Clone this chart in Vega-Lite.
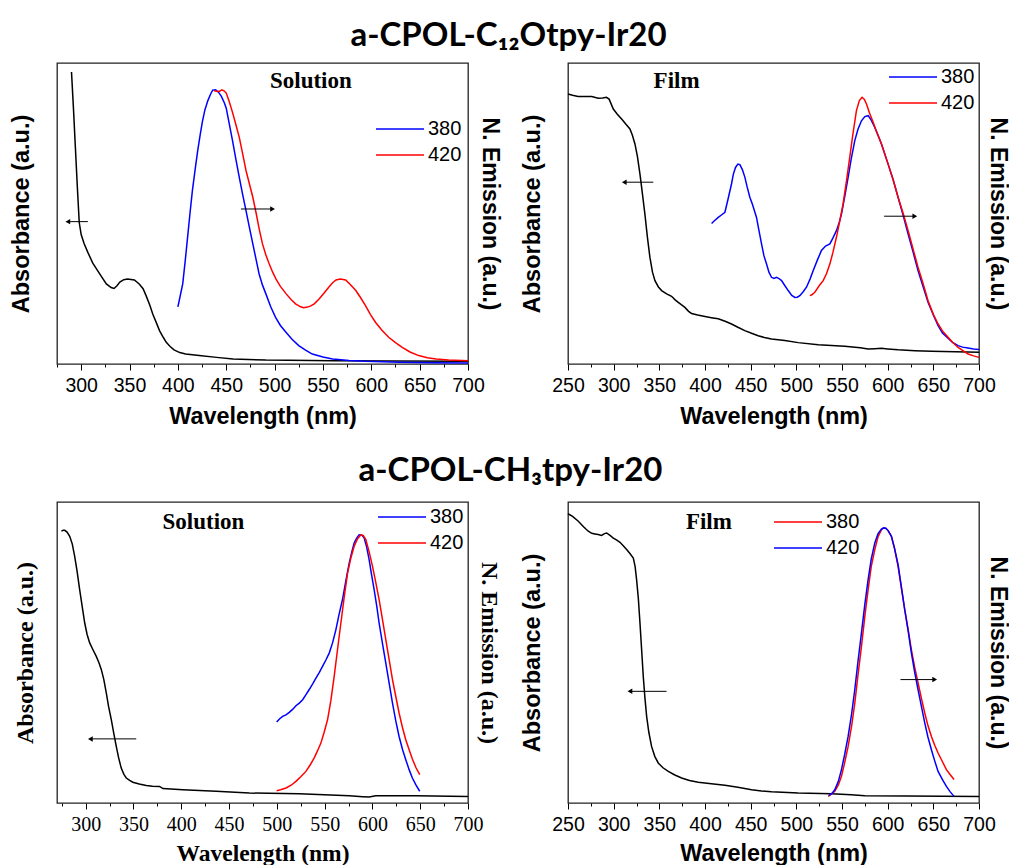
{
"$schema": "https://vega.github.io/schema/vega-lite/v6.json",
"background": "white",
"padding": {"left": 8, "top": 20, "right": 0, "bottom": 0},
"config": {
  "view": {"stroke": "#222222", "strokeWidth": 1.3},
  "axis": {"labelFont": "Liberation Sans", "labelFontSize": 19.5, "labelColor": "black", "titleFont": "Liberation Sans", "titleFontSize": 23.4, "titleFontWeight": "bold", "titleColor": "black", "tickColor": "black", "grid": false, "domain": false},
  "title": {"font": "Lato", "fontSize": 33, "fontWeight": "bold", "color": "black", "anchor": "middle", "offset": 9},
  "legend": {"labelFont": "Liberation Sans", "labelFontSize": 20, "labelColor": "black", "title": null, "orient": "none", "symbolType": "M-6,0L6,0", "symbolSize": 64, "symbolStrokeWidth": 1.5, "rowPadding": 6, "labelOffset": 18}
},
"datasets": {
  "A_abs": [{"wl":290,"v":0.97},{"wl":292,"v":0.85},{"wl":294,"v":0.72},{"wl":296,"v":0.59},{"wl":298,"v":0.47},{"wl":300,"v":0.43},{"wl":303,"v":0.40},{"wl":307,"v":0.37},{"wl":312,"v":0.335},{"wl":319,"v":0.30},{"wl":326,"v":0.266},{"wl":331,"v":0.254},{"wl":334,"v":0.251},{"wl":337,"v":0.26},{"wl":340,"v":0.272},{"wl":344,"v":0.28},{"wl":348,"v":0.282},{"wl":355,"v":0.279},{"wl":360,"v":0.266},{"wl":364,"v":0.25},{"wl":367,"v":0.228},{"wl":371,"v":0.195},{"wl":374,"v":0.166},{"wl":378,"v":0.135},{"wl":381,"v":0.111},{"wl":385,"v":0.088},{"wl":388,"v":0.072},{"wl":392,"v":0.058},{"wl":396,"v":0.047},{"wl":402,"v":0.038},{"wl":408,"v":0.033},{"wl":422,"v":0.028},{"wl":440,"v":0.022},{"wl":457,"v":0.017},{"wl":491,"v":0.013},{"wl":560,"v":0.011},{"wl":620,"v":0.010},{"wl":700,"v":0.009}],
  "A_em": [
    {"wl":400,"v":0.19,"ex":"380"},{"wl":402,"v":0.22,"ex":"380"},{"wl":405,"v":0.266,"ex":"380"},{"wl":407.5,"v":0.34,"ex":"380"},{"wl":410,"v":0.42,"ex":"380"},{"wl":412.5,"v":0.50,"ex":"380"},{"wl":415,"v":0.576,"ex":"380"},{"wl":418,"v":0.65,"ex":"380"},{"wl":420.5,"v":0.709,"ex":"380"},{"wl":423,"v":0.76,"ex":"380"},{"wl":425.5,"v":0.808,"ex":"380"},{"wl":428,"v":0.845,"ex":"380"},{"wl":431,"v":0.875,"ex":"380"},{"wl":434,"v":0.898,"ex":"380"},{"wl":436,"v":0.91,"ex":"380"},{"wl":439,"v":0.911,"ex":"380"},{"wl":442,"v":0.903,"ex":"380"},{"wl":445,"v":0.889,"ex":"380"},{"wl":448,"v":0.868,"ex":"380"},{"wl":450,"v":0.85,"ex":"380"},{"wl":453,"v":0.80,"ex":"380"},{"wl":456.5,"v":0.742,"ex":"380"},{"wl":460,"v":0.68,"ex":"380"},{"wl":463.5,"v":0.62,"ex":"380"},{"wl":467,"v":0.563,"ex":"380"},{"wl":470.5,"v":0.509,"ex":"380"},{"wl":474,"v":0.453,"ex":"380"},{"wl":477.5,"v":0.399,"ex":"380"},{"wl":481,"v":0.345,"ex":"380"},{"wl":484,"v":0.299,"ex":"380"},{"wl":487.5,"v":0.262,"ex":"380"},{"wl":491,"v":0.233,"ex":"380"},{"wl":496,"v":0.19,"ex":"380"},{"wl":501,"v":0.155,"ex":"380"},{"wl":506,"v":0.128,"ex":"380"},{"wl":512,"v":0.105,"ex":"380"},{"wl":518,"v":0.082,"ex":"380"},{"wl":525,"v":0.061,"ex":"380"},{"wl":532,"v":0.046,"ex":"380"},{"wl":539,"v":0.033,"ex":"380"},{"wl":550,"v":0.023,"ex":"380"},{"wl":560,"v":0.017,"ex":"380"},{"wl":577,"v":0.012,"ex":"380"},{"wl":594,"v":0.009,"ex":"380"},{"wl":629,"v":0.0055,"ex":"380"},{"wl":665,"v":0.004,"ex":"380"},{"wl":700,"v":0.003,"ex":"380"},
    {"wl":437.5,"v":0.908,"ex":"420"},{"wl":441,"v":0.905,"ex":"420"},{"wl":443,"v":0.906,"ex":"420"},{"wl":445.5,"v":0.911,"ex":"420"},{"wl":448,"v":0.907,"ex":"420"},{"wl":450,"v":0.9,"ex":"420"},{"wl":453,"v":0.873,"ex":"420"},{"wl":456.5,"v":0.836,"ex":"420"},{"wl":460,"v":0.795,"ex":"420"},{"wl":463.5,"v":0.753,"ex":"420"},{"wl":467,"v":0.698,"ex":"420"},{"wl":470.5,"v":0.642,"ex":"420"},{"wl":474,"v":0.598,"ex":"420"},{"wl":477.5,"v":0.554,"ex":"420"},{"wl":481,"v":0.5,"ex":"420"},{"wl":484,"v":0.45,"ex":"420"},{"wl":487.5,"v":0.399,"ex":"420"},{"wl":491,"v":0.362,"ex":"420"},{"wl":494.5,"v":0.332,"ex":"420"},{"wl":498,"v":0.305,"ex":"420"},{"wl":501.5,"v":0.282,"ex":"420"},{"wl":506,"v":0.258,"ex":"420"},{"wl":512,"v":0.233,"ex":"420"},{"wl":517,"v":0.214,"ex":"420"},{"wl":522,"v":0.199,"ex":"420"},{"wl":527,"v":0.19,"ex":"420"},{"wl":530,"v":0.187,"ex":"420"},{"wl":534,"v":0.189,"ex":"420"},{"wl":537.5,"v":0.193,"ex":"420"},{"wl":541,"v":0.2,"ex":"420"},{"wl":546,"v":0.216,"ex":"420"},{"wl":551,"v":0.235,"ex":"420"},{"wl":556,"v":0.255,"ex":"420"},{"wl":560,"v":0.27,"ex":"420"},{"wl":563.5,"v":0.279,"ex":"420"},{"wl":568,"v":0.282,"ex":"420"},{"wl":573.5,"v":0.279,"ex":"420"},{"wl":578,"v":0.265,"ex":"420"},{"wl":584,"v":0.244,"ex":"420"},{"wl":589,"v":0.22,"ex":"420"},{"wl":594,"v":0.194,"ex":"420"},{"wl":599,"v":0.165,"ex":"420"},{"wl":604.5,"v":0.138,"ex":"420"},{"wl":611,"v":0.112,"ex":"420"},{"wl":618,"v":0.089,"ex":"420"},{"wl":625,"v":0.071,"ex":"420"},{"wl":632,"v":0.055,"ex":"420"},{"wl":640,"v":0.04,"ex":"420"},{"wl":649,"v":0.028,"ex":"420"},{"wl":658,"v":0.021,"ex":"420"},{"wl":667,"v":0.017,"ex":"420"},{"wl":680,"v":0.013,"ex":"420"},{"wl":700,"v":0.011,"ex":"420"}],
  "A_arrow": [{"wl":286.2,"wl2":306.9,"v":0.473,"dir":"left"},{"wl":497.9,"wl2":465.2,"v":0.515,"dir":"right"}],
  "A_label": [{"wl":537.5,"v":0.941,"label":"Solution"}],
  "B_abs": [{"wl":250,"v":0.897},{"wl":255,"v":0.893},{"wl":261,"v":0.889},{"wl":268,"v":0.889},{"wl":276,"v":0.889},{"wl":283,"v":0.883},{"wl":288,"v":0.884},{"wl":292,"v":0.886},{"wl":295,"v":0.88},{"wl":299.6,"v":0.847},{"wl":304,"v":0.83},{"wl":308.7,"v":0.814},{"wl":313,"v":0.798},{"wl":317.8,"v":0.781},{"wl":320.5,"v":0.76},{"wl":323.3,"v":0.731},{"wl":326,"v":0.69},{"wl":328.8,"v":0.631},{"wl":331.5,"v":0.565},{"wl":334.2,"v":0.498},{"wl":337,"v":0.42},{"wl":339.7,"v":0.354},{"wl":342.5,"v":0.305},{"wl":345.2,"v":0.277},{"wl":349,"v":0.256},{"wl":352.5,"v":0.244},{"wl":358,"v":0.233},{"wl":363.4,"v":0.225},{"wl":367,"v":0.214},{"wl":370.7,"v":0.205},{"wl":374,"v":0.197},{"wl":378,"v":0.188},{"wl":382,"v":0.175},{"wl":385.3,"v":0.168},{"wl":392,"v":0.163},{"wl":400,"v":0.158},{"wl":407,"v":0.154},{"wl":414.5,"v":0.150},{"wl":422,"v":0.142},{"wl":429,"v":0.133},{"wl":436,"v":0.122},{"wl":443.6,"v":0.111},{"wl":451,"v":0.102},{"wl":458.2,"v":0.094},{"wl":465,"v":0.088},{"wl":472.8,"v":0.083},{"wl":487.4,"v":0.078},{"wl":502,"v":0.071},{"wl":524,"v":0.064},{"wl":553,"v":0.059},{"wl":570,"v":0.054},{"wl":578.6,"v":0.050},{"wl":586,"v":0.051},{"wl":593.2,"v":0.052},{"wl":600,"v":0.05},{"wl":611.4,"v":0.047},{"wl":630,"v":0.044},{"wl":648,"v":0.042},{"wl":700,"v":0.039}],
  "B_em": [
    {"wl":407.2,"v":0.467,"ex":"380"},{"wl":410,"v":0.475,"ex":"380"},{"wl":414.5,"v":0.487,"ex":"380"},{"wl":418,"v":0.495,"ex":"380"},{"wl":421.8,"v":0.504,"ex":"380"},{"wl":425,"v":0.545,"ex":"380"},{"wl":429,"v":0.598,"ex":"380"},{"wl":431,"v":0.63,"ex":"380"},{"wl":433.4,"v":0.653,"ex":"380"},{"wl":436,"v":0.664,"ex":"380"},{"wl":438.2,"v":0.662,"ex":"380"},{"wl":441,"v":0.645,"ex":"380"},{"wl":443.7,"v":0.62,"ex":"380"},{"wl":446,"v":0.59,"ex":"380"},{"wl":449.1,"v":0.554,"ex":"380"},{"wl":452,"v":0.53,"ex":"380"},{"wl":456.4,"v":0.487,"ex":"380"},{"wl":459,"v":0.445,"ex":"380"},{"wl":461.9,"v":0.399,"ex":"380"},{"wl":464.5,"v":0.36,"ex":"380"},{"wl":467.4,"v":0.332,"ex":"380"},{"wl":470,"v":0.305,"ex":"380"},{"wl":472.8,"v":0.288,"ex":"380"},{"wl":475.5,"v":0.284,"ex":"380"},{"wl":478.3,"v":0.288,"ex":"380"},{"wl":481,"v":0.284,"ex":"380"},{"wl":483.8,"v":0.277,"ex":"380"},{"wl":487.5,"v":0.26,"ex":"380"},{"wl":491.1,"v":0.244,"ex":"380"},{"wl":495,"v":0.228,"ex":"380"},{"wl":498.4,"v":0.221,"ex":"380"},{"wl":501,"v":0.222,"ex":"380"},{"wl":503.8,"v":0.227,"ex":"380"},{"wl":507.5,"v":0.24,"ex":"380"},{"wl":511.1,"v":0.255,"ex":"380"},{"wl":515,"v":0.282,"ex":"380"},{"wl":518.4,"v":0.31,"ex":"380"},{"wl":523,"v":0.345,"ex":"380"},{"wl":527.5,"v":0.377,"ex":"380"},{"wl":532,"v":0.392,"ex":"380"},{"wl":536.7,"v":0.399,"ex":"380"},{"wl":540,"v":0.418,"ex":"380"},{"wl":543.9,"v":0.443,"ex":"380"},{"wl":547,"v":0.47,"ex":"380"},{"wl":549.4,"v":0.498,"ex":"380"},{"wl":553,"v":0.556,"ex":"380"},{"wl":556.7,"v":0.62,"ex":"380"},{"wl":560,"v":0.68,"ex":"380"},{"wl":564,"v":0.742,"ex":"380"},{"wl":567.5,"v":0.78,"ex":"380"},{"wl":571.3,"v":0.808,"ex":"380"},{"wl":575,"v":0.822,"ex":"380"},{"wl":578.6,"v":0.825,"ex":"380"},{"wl":582,"v":0.81,"ex":"380"},{"wl":585.9,"v":0.786,"ex":"380"},{"wl":589.5,"v":0.76,"ex":"380"},{"wl":593.2,"v":0.731,"ex":"380"},{"wl":600.5,"v":0.664,"ex":"380"},{"wl":606,"v":0.612,"ex":"380"},{"wl":611.4,"v":0.554,"ex":"380"},{"wl":617,"v":0.493,"ex":"380"},{"wl":622.4,"v":0.432,"ex":"380"},{"wl":628,"v":0.37,"ex":"380"},{"wl":633.3,"v":0.31,"ex":"380"},{"wl":639,"v":0.255,"ex":"380"},{"wl":644.2,"v":0.205,"ex":"380"},{"wl":650,"v":0.163,"ex":"380"},{"wl":655.2,"v":0.127,"ex":"380"},{"wl":660,"v":0.103,"ex":"380"},{"wl":666.1,"v":0.086,"ex":"380"},{"wl":671,"v":0.072,"ex":"380"},{"wl":677.1,"v":0.061,"ex":"380"},{"wl":682,"v":0.056,"ex":"380"},{"wl":688,"v":0.053,"ex":"380"},{"wl":694,"v":0.05,"ex":"380"},{"wl":700,"v":0.048,"ex":"380"},
    {"wl":514.8,"v":0.227,"ex":"420"},{"wl":517,"v":0.23,"ex":"420"},{"wl":520.2,"v":0.238,"ex":"420"},{"wl":525,"v":0.26,"ex":"420"},{"wl":529.4,"v":0.277,"ex":"420"},{"wl":533,"v":0.3,"ex":"420"},{"wl":536.7,"v":0.332,"ex":"420"},{"wl":540,"v":0.37,"ex":"420"},{"wl":543.9,"v":0.421,"ex":"420"},{"wl":547.5,"v":0.475,"ex":"420"},{"wl":551.2,"v":0.532,"ex":"420"},{"wl":555,"v":0.61,"ex":"420"},{"wl":558.5,"v":0.687,"ex":"420"},{"wl":562,"v":0.765,"ex":"420"},{"wl":565.8,"v":0.842,"ex":"420"},{"wl":569,"v":0.875,"ex":"420"},{"wl":572,"v":0.886,"ex":"420"},{"wl":574.5,"v":0.879,"ex":"420"},{"wl":576.8,"v":0.864,"ex":"420"},{"wl":580,"v":0.835,"ex":"420"},{"wl":584.1,"v":0.803,"ex":"420"},{"wl":588,"v":0.77,"ex":"420"},{"wl":593.2,"v":0.731,"ex":"420"},{"wl":600.5,"v":0.664,"ex":"420"},{"wl":606,"v":0.612,"ex":"420"},{"wl":611.4,"v":0.554,"ex":"420"},{"wl":617,"v":0.5,"ex":"420"},{"wl":622.4,"v":0.443,"ex":"420"},{"wl":628,"v":0.38,"ex":"420"},{"wl":633.3,"v":0.321,"ex":"420"},{"wl":639,"v":0.265,"ex":"420"},{"wl":644.2,"v":0.21,"ex":"420"},{"wl":650,"v":0.165,"ex":"420"},{"wl":655.2,"v":0.133,"ex":"420"},{"wl":660,"v":0.11,"ex":"420"},{"wl":666.1,"v":0.089,"ex":"420"},{"wl":671,"v":0.072,"ex":"420"},{"wl":677.1,"v":0.055,"ex":"420"},{"wl":682,"v":0.045,"ex":"420"},{"wl":688,"v":0.033,"ex":"420"},{"wl":694,"v":0.027,"ex":"420"},{"wl":700,"v":0.022,"ex":"420"}],
  "B_arrow": [{"wl":311.6,"wl2":343.4,"v":0.604,"dir":"left"},{"wl":629.7,"wl2":596.1,"v":0.491,"dir":"right"}],
  "B_label": [{"wl":368.9,"v":0.939,"label":"Film"}],
  "C_abs": [{"wl":274.6,"v":0.903},{"wl":276.5,"v":0.906},{"wl":278.1,"v":0.906},{"wl":280.5,"v":0.9},{"wl":283.3,"v":0.886},{"wl":286,"v":0.86},{"wl":288.5,"v":0.819},{"wl":291,"v":0.77},{"wl":293.7,"v":0.709},{"wl":296.5,"v":0.65},{"wl":299,"v":0.598},{"wl":301.5,"v":0.56},{"wl":304.2,"v":0.532},{"wl":307.5,"v":0.51},{"wl":311.1,"v":0.487},{"wl":314,"v":0.465},{"wl":316.4,"v":0.443},{"wl":319,"v":0.41},{"wl":321.6,"v":0.365},{"wl":324,"v":0.32},{"wl":326.8,"v":0.277},{"wl":329.5,"v":0.23},{"wl":332,"v":0.188},{"wl":334.5,"v":0.15},{"wl":337.2,"v":0.116},{"wl":340,"v":0.095},{"wl":342.5,"v":0.083},{"wl":346,"v":0.075},{"wl":349.4,"v":0.069},{"wl":356,"v":0.063},{"wl":363.4,"v":0.058},{"wl":370,"v":0.056},{"wl":377.3,"v":0.055},{"wl":380.8,"v":0.048},{"wl":401.6,"v":0.044},{"wl":436.5,"v":0.039},{"wl":471.3,"v":0.033},{"wl":523.5,"v":0.031},{"wl":575.7,"v":0.024},{"wl":590,"v":0.021},{"wl":596.6,"v":0.020},{"wl":603.5,"v":0.024},{"wl":645.3,"v":0.024},{"wl":700,"v":0.022}],
  "C_em": [
    {"wl":499.8,"v":0.269,"ex":"380"},{"wl":503,"v":0.28,"ex":"380"},{"wl":506.1,"v":0.288,"ex":"380"},{"wl":509.5,"v":0.293,"ex":"380"},{"wl":513,"v":0.301,"ex":"380"},{"wl":516.5,"v":0.311,"ex":"380"},{"wl":520,"v":0.323,"ex":"380"},{"wl":523.5,"v":0.332,"ex":"380"},{"wl":527,"v":0.343,"ex":"380"},{"wl":530.5,"v":0.36,"ex":"380"},{"wl":533.9,"v":0.377,"ex":"380"},{"wl":537.5,"v":0.396,"ex":"380"},{"wl":540.9,"v":0.415,"ex":"380"},{"wl":544.5,"v":0.434,"ex":"380"},{"wl":547.8,"v":0.454,"ex":"380"},{"wl":551.3,"v":0.475,"ex":"380"},{"wl":554.8,"v":0.498,"ex":"380"},{"wl":558.3,"v":0.532,"ex":"380"},{"wl":561.8,"v":0.576,"ex":"380"},{"wl":565,"v":0.625,"ex":"380"},{"wl":568.7,"v":0.676,"ex":"380"},{"wl":572,"v":0.735,"ex":"380"},{"wl":575.7,"v":0.797,"ex":"380"},{"wl":578.5,"v":0.835,"ex":"380"},{"wl":580.9,"v":0.864,"ex":"380"},{"wl":583.5,"v":0.88,"ex":"380"},{"wl":586.1,"v":0.891,"ex":"380"},{"wl":589,"v":0.89,"ex":"380"},{"wl":591.4,"v":0.88,"ex":"380"},{"wl":594,"v":0.85,"ex":"380"},{"wl":596.6,"v":0.808,"ex":"380"},{"wl":599,"v":0.76,"ex":"380"},{"wl":601.8,"v":0.709,"ex":"380"},{"wl":604.5,"v":0.655,"ex":"380"},{"wl":607,"v":0.598,"ex":"380"},{"wl":610.5,"v":0.53,"ex":"380"},{"wl":614,"v":0.465,"ex":"380"},{"wl":617.5,"v":0.398,"ex":"380"},{"wl":621,"v":0.332,"ex":"380"},{"wl":624.5,"v":0.272,"ex":"380"},{"wl":627.9,"v":0.221,"ex":"380"},{"wl":631.5,"v":0.178,"ex":"380"},{"wl":634.9,"v":0.144,"ex":"380"},{"wl":638.5,"v":0.11,"ex":"380"},{"wl":641.8,"v":0.083,"ex":"380"},{"wl":645.5,"v":0.06,"ex":"380"},{"wl":649.5,"v":0.039,"ex":"380"},
    {"wl":499.8,"v":0.041,"ex":"420"},{"wl":504,"v":0.044,"ex":"420"},{"wl":509.6,"v":0.05,"ex":"420"},{"wl":515,"v":0.059,"ex":"420"},{"wl":520,"v":0.072,"ex":"420"},{"wl":525,"v":0.087,"ex":"420"},{"wl":530.4,"v":0.105,"ex":"420"},{"wl":535,"v":0.127,"ex":"420"},{"wl":539.1,"v":0.15,"ex":"420"},{"wl":542.5,"v":0.173,"ex":"420"},{"wl":546.1,"v":0.199,"ex":"420"},{"wl":549.5,"v":0.235,"ex":"420"},{"wl":553.1,"v":0.277,"ex":"420"},{"wl":556.5,"v":0.34,"ex":"420"},{"wl":560,"v":0.421,"ex":"420"},{"wl":563.5,"v":0.51,"ex":"420"},{"wl":567,"v":0.598,"ex":"420"},{"wl":570.5,"v":0.685,"ex":"420"},{"wl":574,"v":0.764,"ex":"420"},{"wl":577.5,"v":0.815,"ex":"420"},{"wl":580.9,"v":0.853,"ex":"420"},{"wl":584.5,"v":0.878,"ex":"420"},{"wl":587.9,"v":0.891,"ex":"420"},{"wl":590.5,"v":0.888,"ex":"420"},{"wl":593.1,"v":0.875,"ex":"420"},{"wl":596.5,"v":0.835,"ex":"420"},{"wl":600.1,"v":0.786,"ex":"420"},{"wl":603.5,"v":0.733,"ex":"420"},{"wl":607,"v":0.676,"ex":"420"},{"wl":610.5,"v":0.61,"ex":"420"},{"wl":614,"v":0.543,"ex":"420"},{"wl":617.5,"v":0.476,"ex":"420"},{"wl":621,"v":0.41,"ex":"420"},{"wl":624.5,"v":0.353,"ex":"420"},{"wl":627.9,"v":0.299,"ex":"420"},{"wl":631.5,"v":0.25,"ex":"420"},{"wl":634.9,"v":0.21,"ex":"420"},{"wl":638.5,"v":0.176,"ex":"420"},{"wl":641.8,"v":0.146,"ex":"420"},{"wl":645.5,"v":0.118,"ex":"420"},{"wl":649.5,"v":0.094,"ex":"420"}],
  "C_arrow": [{"wl":304.9,"wl2":352.9,"v":0.213,"dir":"left"}],
  "C_label": [{"wl":423.2,"v":0.932,"label":"Solution"}],
  "D_abs": [{"wl":250,"v":0.961},{"wl":255,"v":0.952},{"wl":261.3,"v":0.936},{"wl":267,"v":0.918},{"wl":272.2,"v":0.903},{"wl":276,"v":0.896},{"wl":279.5,"v":0.894},{"wl":283,"v":0.892},{"wl":286.8,"v":0.889},{"wl":290,"v":0.895},{"wl":292.3,"v":0.897},{"wl":296,"v":0.889},{"wl":299.6,"v":0.880},{"wl":303,"v":0.874},{"wl":306.9,"v":0.866},{"wl":310.5,"v":0.855},{"wl":314.2,"v":0.842},{"wl":318,"v":0.828},{"wl":321.5,"v":0.814},{"wl":323.5,"v":0.785},{"wl":325.1,"v":0.742},{"wl":327,"v":0.68},{"wl":328.8,"v":0.598},{"wl":330.6,"v":0.51},{"wl":332.4,"v":0.421},{"wl":334.2,"v":0.35},{"wl":336.1,"v":0.288},{"wl":338.5,"v":0.235},{"wl":341.5,"v":0.188},{"wl":345,"v":0.155},{"wl":348.8,"v":0.133},{"wl":354,"v":0.117},{"wl":359.8,"v":0.105},{"wl":367,"v":0.093},{"wl":374.4,"v":0.083},{"wl":383,"v":0.075},{"wl":392.6,"v":0.069},{"wl":407,"v":0.064},{"wl":421.8,"v":0.059},{"wl":436,"v":0.052},{"wl":451,"v":0.044},{"wl":462,"v":0.04},{"wl":472.8,"v":0.037},{"wl":502,"v":0.033},{"wl":538.5,"v":0.031},{"wl":560,"v":0.027},{"wl":575,"v":0.024},{"wl":620,"v":0.023},{"wl":700,"v":0.022}],
  "D_em": [
    {"wl":534.8,"v":0.022,"ex":"380"},{"wl":538.5,"v":0.03,"ex":"380"},{"wl":542.1,"v":0.039,"ex":"380"},{"wl":546,"v":0.06,"ex":"380"},{"wl":549.4,"v":0.089,"ex":"380"},{"wl":553,"v":0.135,"ex":"380"},{"wl":556.7,"v":0.188,"ex":"380"},{"wl":560.5,"v":0.255,"ex":"380"},{"wl":564,"v":0.332,"ex":"380"},{"wl":567.5,"v":0.425,"ex":"380"},{"wl":571.3,"v":0.52,"ex":"380"},{"wl":575,"v":0.62,"ex":"380"},{"wl":578.6,"v":0.709,"ex":"380"},{"wl":582,"v":0.785,"ex":"380"},{"wl":585.9,"v":0.842,"ex":"380"},{"wl":589.5,"v":0.885,"ex":"380"},{"wl":593.2,"v":0.908,"ex":"380"},{"wl":595.5,"v":0.913,"ex":"380"},{"wl":597.9,"v":0.913,"ex":"380"},{"wl":600.5,"v":0.905,"ex":"380"},{"wl":604.1,"v":0.886,"ex":"380"},{"wl":607.5,"v":0.845,"ex":"380"},{"wl":611.4,"v":0.786,"ex":"380"},{"wl":615,"v":0.715,"ex":"380"},{"wl":618.7,"v":0.642,"ex":"380"},{"wl":622.5,"v":0.575,"ex":"380"},{"wl":626,"v":0.509,"ex":"380"},{"wl":629.5,"v":0.452,"ex":"380"},{"wl":633.3,"v":0.399,"ex":"380"},{"wl":637,"v":0.347,"ex":"380"},{"wl":640.6,"v":0.299,"ex":"380"},{"wl":644,"v":0.258,"ex":"380"},{"wl":647.9,"v":0.221,"ex":"380"},{"wl":651.5,"v":0.192,"ex":"380"},{"wl":655.2,"v":0.166,"ex":"380"},{"wl":660,"v":0.137,"ex":"380"},{"wl":664.3,"v":0.111,"ex":"380"},{"wl":668.5,"v":0.094,"ex":"380"},{"wl":672.7,"v":0.078,"ex":"380"},
    {"wl":535.6,"v":0.024,"ex":"420"},{"wl":539,"v":0.032,"ex":"420"},{"wl":542.1,"v":0.044,"ex":"420"},{"wl":546,"v":0.072,"ex":"420"},{"wl":549.4,"v":0.111,"ex":"420"},{"wl":553,"v":0.162,"ex":"420"},{"wl":556.7,"v":0.221,"ex":"420"},{"wl":560.5,"v":0.295,"ex":"420"},{"wl":564,"v":0.377,"ex":"420"},{"wl":567.5,"v":0.47,"ex":"420"},{"wl":571.3,"v":0.565,"ex":"420"},{"wl":575,"v":0.66,"ex":"420"},{"wl":578.6,"v":0.742,"ex":"420"},{"wl":582,"v":0.81,"ex":"420"},{"wl":585.9,"v":0.864,"ex":"420"},{"wl":589.5,"v":0.895,"ex":"420"},{"wl":593.2,"v":0.91,"ex":"420"},{"wl":595.5,"v":0.914,"ex":"420"},{"wl":597.9,"v":0.913,"ex":"420"},{"wl":600.5,"v":0.905,"ex":"420"},{"wl":604.1,"v":0.886,"ex":"420"},{"wl":607.5,"v":0.847,"ex":"420"},{"wl":611.4,"v":0.792,"ex":"420"},{"wl":615,"v":0.718,"ex":"420"},{"wl":618.7,"v":0.642,"ex":"420"},{"wl":622.5,"v":0.57,"ex":"420"},{"wl":626,"v":0.498,"ex":"420"},{"wl":629.5,"v":0.436,"ex":"420"},{"wl":633.3,"v":0.376,"ex":"420"},{"wl":637,"v":0.32,"ex":"420"},{"wl":640.6,"v":0.266,"ex":"420"},{"wl":644,"v":0.22,"ex":"420"},{"wl":647.9,"v":0.177,"ex":"420"},{"wl":651.5,"v":0.14,"ex":"420"},{"wl":655.2,"v":0.105,"ex":"420"},{"wl":660,"v":0.078,"ex":"420"},{"wl":664.3,"v":0.055,"ex":"420"},{"wl":668.5,"v":0.037,"ex":"420"},{"wl":672.7,"v":0.022,"ex":"420"}],
  "D_arrow": [{"wl":317.8,"wl2":357.9,"v":0.371,"dir":"left"},{"wl":651.5,"wl2":614,"v":0.41,"dir":"right"}],
  "D_label": [{"wl":404.3,"v":0.932,"label":"Film"}]
},
"spacing": 26,
"resolve": {"scale": {"color": "independent", "shape": "independent"}, "legend": {"color": "independent"}},
"vconcat": [
 {
  "title": {"text": "a-CPOL-C₁₂Otpy-Ir20"},
  "spacing": 18,
  "resolve": {"scale": {"color": "independent", "shape": "independent"}, "legend": {"color": "independent"}},
  "hconcat": [
   {
    "width": 411, "height": 301,
    "encoding": {
      "x": {"field": "wl", "type": "quantitative", "title": "Wavelength (nm)", "scale": {"domain": [275, 700], "nice": false, "zero": false},
            "axis": {"values": [275,300,325,350,375,400,425,450,475,500,525,550,575,600,625,650,675,700], "labelExpr": "datum.value % 50 === 0 ? datum.label : ''", "tickSize": {"condition": {"test": "datum.value % 50 === 0", "value": 6}, "value": 3}, "labelPadding": 6, "titlePadding": 11, "labelOverlap": false, "labelFlush": false}},
      "y": {"field": "v", "type": "quantitative", "scale": {"domain": [0, 1], "nice": false, "zero": false}, "axis": null}
    },
    "layer": [
     {"data": {"name": "A_abs"}, "mark": {"type": "line", "color": "black", "strokeWidth": 1.5},
      "encoding": {"y": {"field": "v", "type": "quantitative", "scale": {"domain": [0, 1], "nice": false, "zero": false}, "axis": {"orient": "left", "title": "Absorbance (a.u.)", "ticks": false, "labels": false, "titlePadding": 24, "titleFontSize": 23.5}}}},
     {"data": {"name": "A_em"}, "mark": {"type": "line", "strokeWidth": 1.5},
      "encoding": {"y": {"field": "v", "type": "quantitative", "scale": {"domain": [0, 1], "nice": false, "zero": false}, "axis": {"orient": "right", "title": "N. Emission (a.u.)", "ticks": false, "labels": false, "titlePadding": 9, "titleFontSize": 23}},
        "color": {"field": "ex", "type": "nominal", "scale": {"domain": ["380", "420"], "range": ["#0000ff", "#ff0000"]},
          "legend": {"legendX": 333, "legendY": 56}}}},
     {"data": {"name": "A_arrow"}, "mark": {"type": "rule", "color": "black", "strokeWidth": 1}, "encoding": {"x2": {"field": "wl2"}}},
     {"data": {"name": "A_arrow"}, "mark": {"type": "point", "filled": true, "color": "black", "opacity": 1, "size": 30},
      "encoding": {"shape": {"field": "dir", "type": "nominal", "scale": {"domain": ["left", "right"], "range": ["triangle-left", "triangle-right"]}, "legend": null}}},
     {"data": {"name": "A_label"}, "mark": {"type": "text", "font": "Liberation Serif", "fontWeight": "bold", "fontSize": 23, "color": "black", "align": "center", "baseline": "middle"},
      "encoding": {"text": {"field": "label"}}}
    ],
    "resolve": {"scale": {"y": "independent"}}
   },
   {
    "width": 411, "height": 301,
    "encoding": {
      "x": {"field": "wl", "type": "quantitative", "title": "Wavelength (nm)", "scale": {"domain": [250, 700], "nice": false, "zero": false},
            "axis": {"values": [250,275,300,325,350,375,400,425,450,475,500,525,550,575,600,625,650,675,700], "labelExpr": "datum.value % 50 === 0 ? datum.label : ''", "tickSize": {"condition": {"test": "datum.value % 50 === 0", "value": 6}, "value": 3}, "labelPadding": 6, "titlePadding": 11, "labelOverlap": false, "labelFlush": false}},
      "y": {"field": "v", "type": "quantitative", "scale": {"domain": [0, 1], "nice": false, "zero": false}, "axis": null}
    },
    "layer": [
     {"data": {"name": "B_abs"}, "mark": {"type": "line", "color": "black", "strokeWidth": 1.5},
      "encoding": {"y": {"field": "v", "type": "quantitative", "scale": {"domain": [0, 1], "nice": false, "zero": false}, "axis": {"orient": "left", "title": "Absorbance (a.u.)", "ticks": false, "labels": false, "titlePadding": 24, "titleFontSize": 23.5}}}},
     {"data": {"name": "B_em"}, "mark": {"type": "line", "strokeWidth": 1.5},
      "encoding": {"y": {"field": "v", "type": "quantitative", "scale": {"domain": [0, 1], "nice": false, "zero": false}, "axis": {"orient": "right", "title": "N. Emission (a.u.)", "ticks": false, "labels": false, "titlePadding": 6, "titleFontSize": 23}},
        "color": {"field": "ex", "type": "nominal", "scale": {"domain": ["380", "420"], "range": ["#0000ff", "#ff0000"]},
          "legend": {"legendX": 335, "legendY": 4}}}},
     {"data": {"name": "B_arrow"}, "mark": {"type": "rule", "color": "black", "strokeWidth": 1}, "encoding": {"x2": {"field": "wl2"}}},
     {"data": {"name": "B_arrow"}, "mark": {"type": "point", "filled": true, "color": "black", "opacity": 1, "size": 30},
      "encoding": {"shape": {"field": "dir", "type": "nominal", "scale": {"domain": ["left", "right"], "range": ["triangle-left", "triangle-right"]}, "legend": null}}},
     {"data": {"name": "B_label"}, "mark": {"type": "text", "font": "Liberation Serif", "fontWeight": "bold", "fontSize": 23, "color": "black", "align": "center", "baseline": "middle"},
      "encoding": {"text": {"field": "label"}}}
    ],
    "resolve": {"scale": {"y": "independent"}}
   }
  ]
 },
 {
  "title": {"text": "a-CPOL-CH₃tpy-Ir20", "offset": 13},
  "spacing": 18,
  "resolve": {"scale": {"color": "independent", "shape": "independent"}, "legend": {"color": "independent"}},
  "hconcat": [
   {
    "width": 411, "height": 301,
    "encoding": {
      "x": {"field": "wl", "type": "quantitative", "title": "Wavelength (nm)", "scale": {"domain": [270, 700], "nice": false, "zero": false},
            "axis": {"values": [275,300,325,350,375,400,425,450,475,500,525,550,575,600,625,650,675,700], "labelExpr": "datum.value % 50 === 0 ? datum.label : ''", "tickSize": {"condition": {"test": "datum.value % 50 === 0", "value": 6}, "value": 3}, "labelPadding": 5, "titlePadding": 7, "labelOverlap": false, "labelFlush": false, "labelFont": "Liberation Serif", "labelFontSize": 20, "titleFont": "Liberation Serif", "titleFontSize": 23.5}},
      "y": {"field": "v", "type": "quantitative", "scale": {"domain": [0, 1], "nice": false, "zero": false}, "axis": null}
    },
    "layer": [
     {"data": {"name": "C_abs"}, "mark": {"type": "line", "color": "black", "strokeWidth": 1.5},
      "encoding": {"y": {"field": "v", "type": "quantitative", "scale": {"domain": [0, 1], "nice": false, "zero": false}, "axis": {"orient": "left", "title": "Absorbance (a.u.)", "ticks": false, "labels": false, "titlePadding": 20, "titleFont": "Liberation Serif", "titleFontSize": 24}}}},
     {"data": {"name": "C_em"}, "mark": {"type": "line", "strokeWidth": 1.5},
      "encoding": {"y": {"field": "v", "type": "quantitative", "scale": {"domain": [0, 1], "nice": false, "zero": false}, "axis": {"orient": "right", "title": "N. Emission (a.u.)", "ticks": false, "labels": false, "titlePadding": 8, "titleFont": "Liberation Serif", "titleFontSize": 24}},
        "color": {"field": "ex", "type": "nominal", "scale": {"domain": ["380", "420"], "range": ["#0000ff", "#ff0000"]},
          "legend": {"legendX": 335, "legendY": 5}}}},
     {"data": {"name": "C_arrow"}, "mark": {"type": "rule", "color": "black", "strokeWidth": 1}, "encoding": {"x2": {"field": "wl2"}}},
     {"data": {"name": "C_arrow"}, "mark": {"type": "point", "filled": true, "color": "black", "opacity": 1, "size": 30},
      "encoding": {"shape": {"field": "dir", "type": "nominal", "scale": {"domain": ["left", "right"], "range": ["triangle-left", "triangle-right"]}, "legend": null}}},
     {"data": {"name": "C_label"}, "mark": {"type": "text", "font": "Liberation Serif", "fontWeight": "bold", "fontSize": 23, "color": "black", "align": "center", "baseline": "middle"},
      "encoding": {"text": {"field": "label"}}}
    ],
    "resolve": {"scale": {"y": "independent"}}
   },
   {
    "width": 411, "height": 301,
    "encoding": {
      "x": {"field": "wl", "type": "quantitative", "title": "Wavelength (nm)", "scale": {"domain": [250, 700], "nice": false, "zero": false},
            "axis": {"values": [250,275,300,325,350,375,400,425,450,475,500,525,550,575,600,625,650,675,700], "labelExpr": "datum.value % 50 === 0 ? datum.label : ''", "tickSize": {"condition": {"test": "datum.value % 50 === 0", "value": 6}, "value": 3}, "labelPadding": 6, "titlePadding": 9, "labelOverlap": false, "labelFlush": false}},
      "y": {"field": "v", "type": "quantitative", "scale": {"domain": [0, 1], "nice": false, "zero": false}, "axis": null}
    },
    "layer": [
     {"data": {"name": "D_abs"}, "mark": {"type": "line", "color": "black", "strokeWidth": 1.5},
      "encoding": {"y": {"field": "v", "type": "quantitative", "scale": {"domain": [0, 1], "nice": false, "zero": false}, "axis": {"orient": "left", "title": "Absorbance (a.u.)", "ticks": false, "labels": false, "titlePadding": 24, "titleFontSize": 23.5}}}},
     {"data": {"name": "D_em"}, "mark": {"type": "line", "strokeWidth": 1.5},
      "encoding": {"y": {"field": "v", "type": "quantitative", "scale": {"domain": [0, 1], "nice": false, "zero": false}, "axis": {"orient": "right", "title": "N. Emission (a.u.)", "ticks": false, "labels": false, "titlePadding": 6, "titleFontSize": 23}},
        "color": {"field": "ex", "type": "nominal", "scale": {"domain": ["380", "420"], "range": ["#ff0000", "#0000ff"]},
          "legend": {"legendX": 220, "legendY": 10}}}},
     {"data": {"name": "D_arrow"}, "mark": {"type": "rule", "color": "black", "strokeWidth": 1}, "encoding": {"x2": {"field": "wl2"}}},
     {"data": {"name": "D_arrow"}, "mark": {"type": "point", "filled": true, "color": "black", "opacity": 1, "size": 30},
      "encoding": {"shape": {"field": "dir", "type": "nominal", "scale": {"domain": ["left", "right"], "range": ["triangle-left", "triangle-right"]}, "legend": null}}},
     {"data": {"name": "D_label"}, "mark": {"type": "text", "font": "Liberation Serif", "fontWeight": "bold", "fontSize": 23, "color": "black", "align": "center", "baseline": "middle"},
      "encoding": {"text": {"field": "label"}}}
    ],
    "resolve": {"scale": {"y": "independent"}}
   }
  ]
 }
]
}
